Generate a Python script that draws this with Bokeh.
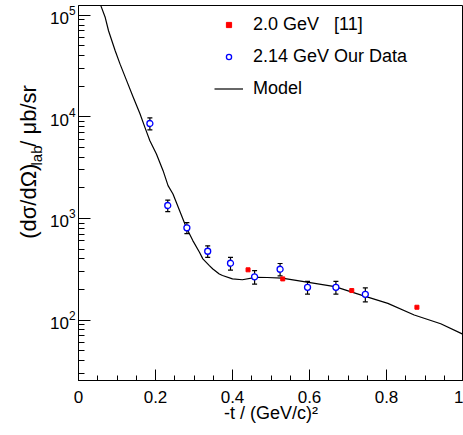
from math import pi
from bokeh.plotting import figure
from bokeh.layouts import row
from bokeh.models import Range1d, FixedTicker, Legend, LegendItem
from bokeh.core.properties import value
from bokeh.embed import file_html
from bokeh.resources import INLINE

# ---- data -------------------------------------------------------------
# Model curve: -t (GeV/c)^2, cross section (ub/sr)
model_t = [0.055, 0.0582, 0.0695, 0.078, 0.0953, 0.108, 0.125, 0.1424, 0.1597,
           0.1725, 0.1854, 0.2024, 0.2197, 0.2326, 0.2454, 0.2627, 0.2797, 0.2969,
           0.3142, 0.323, 0.340, 0.349, 0.3657, 0.374, 0.400, 0.4257, 0.46, 0.49,
           0.5287, 0.5975, 0.666, 0.7347, 0.8035, 0.872, 0.9408, 0.9966, 1.0]
model_xs = [134000, 123600, 94800, 70300, 44700, 33000, 22700, 15500, 10700,
            7870, 5820, 4310, 2950, 2100, 1740, 1190, 817, 605,
            464, 400, 343, 318, 284, 274, 254, 249, 263, 262,
            258, 235, 213, 176, 146, 112, 92, 73, 72]

# 2.14 GeV, our data
our_t = [0.1854, 0.2318, 0.2815, 0.3356, 0.3948, 0.4574, 0.5236, 0.5949, 0.6686, 0.745]
our_xs = [8590, 1340, 808, 475, 362, 266, 316, 210, 210, 179]
our_err = [1150, 175, 100, 62, 52, 40, 44, 30, 30, 28]

# 2.0 GeV [11]
ref_t = [0.4404, 0.5305, 0.7098, 0.879]
ref_xs = [312, 254, 195, 133.6]

x_ticks = [0.0, 0.2, 0.4, 0.6, 0.8, 1.0]
x_tick_labels = ["0", "0.2", "0.4", "0.6", "0.8", "1"]
x_minor = [i * 0.05 for i in range(21)]
y_ticks = [1e2, 1e3, 1e4, 1e5]
y_minor = [m * 10 ** e for e in range(1, 5) for m in range(2, 10)]

legend_labels = ["2.0 GeV\u00a0\u00a0\u00a0[11]", "2.14 GeV Our Data", "Model"]
x_title = "-t / (GeV/c)\u00b2"
y_title_main = "(d\u03c3/d\u03a9)"
y_title_sub = "lab"
y_title_rest = "/ \u03bcb/sr"

FONT = "Liberation Sans"
TW = 46  # width of the strip that carries the y title

# ---- y title strip (text pieces centred on their anchors) -------------
t = figure(width=TW, height=435, x_range=Range1d(0, TW), y_range=Range1d(435, 0),
           output_backend="svg", toolbar_location=None,
           x_axis_location=None, y_axis_location=None,
           min_border_left=0, min_border_right=0, min_border_top=0, min_border_bottom=0)
t.xgrid.visible = False
t.ygrid.visible = False
t.outline_line_color = None
t.background_fill_color = "white"
t.border_fill_color = "white"
t.text(x=[27.5], y=[227], text=[y_title_main], angle=pi / 2, text_font=value(FONT),
       text_font_size=value("22px"), text_align="center", text_baseline="middle",
       text_color="black")
t.text(x=[36], y=[174], text=[y_title_sub], angle=pi / 2, text_font=value(FONT),
       text_font_size=value("15px"), text_align="center", text_baseline="middle",
       text_color="black")
t.text(x=[27.5], y=[128], text=[y_title_rest], angle=pi / 2, text_font=value(FONT),
       text_font_size=value("22px"), text_align="center", text_baseline="middle",
       text_color="black")

# ---- main figure ------------------------------------------------------
p = figure(width=463 - TW, height=435, x_range=Range1d(0, 1), y_range=Range1d(25.4, 124600),
           y_axis_type="log", output_backend="svg", toolbar_location=None,
           min_border_left=75 - TW, min_border_right=0, min_border_top=5, min_border_bottom=55)
p.xgrid.visible = False
p.ygrid.visible = False
p.outline_line_color = "black"
p.outline_line_width = 1
p.background_fill_color = "white"
p.border_fill_color = "white"

xa = p.xaxis[0]
ya = p.yaxis[0]
xa.ticker = FixedTicker(ticks=x_ticks, minor_ticks=x_minor)
xa.major_label_overrides = {tk: lb for tk, lb in zip(x_ticks, x_tick_labels)}
ya.ticker = FixedTicker(ticks=y_ticks, minor_ticks=y_minor)

for ax in (xa, ya):
    ax.major_tick_out = 0
    ax.minor_tick_out = 0
    ax.axis_line_color = "black"
    ax.major_tick_line_color = "black"
    ax.minor_tick_line_color = "black"
    ax.major_label_text_font = FONT
    ax.major_label_text_font_size = "17px"
    ax.major_label_text_color = "black"
xa.major_tick_in = 11
xa.minor_tick_in = 5
ya.major_tick_in = 12
ya.minor_tick_in = 6
xa.major_label_standoff = 10
ya.major_label_standoff = 3

xa.axis_label = x_title
xa.axis_label_text_font = FONT
xa.axis_label_text_font_size = "18px"
xa.axis_label_text_font_style = "normal"
xa.axis_label_text_color = "black"
xa.axis_label_standoff = -3

# ---- glyphs -----------------------------------------------------------
r_model = p.line(model_t, model_xs, line_color="black", line_width=1.2)

lo = [v - e for v, e in zip(our_xs, our_err)]
hi = [v + e for v, e in zip(our_xs, our_err)]
p.segment(our_t, lo, our_t, hi, line_color="black", line_width=1.2)
p.scatter(our_t, lo, marker="dash", size=5, line_color="black", line_width=1.2)
p.scatter(our_t, hi, marker="dash", size=5, line_color="black", line_width=1.2)

r_ref = p.scatter(ref_t, ref_xs, marker="square", size=4, fill_color="#ff0000",
                  line_color="#ff0000")
r_our = p.scatter(our_t, our_xs, marker="circle", size=6, fill_color="white",
                  line_color="#0000ff", line_width=1.3)

legend = Legend(items=[LegendItem(label=legend_labels[0], renderers=[r_ref]),
                       LegendItem(label=legend_labels[1], renderers=[r_our]),
                       LegendItem(label=legend_labels[2], renderers=[r_model])],
                location=(136, 281), glyph_width=29, glyph_height=13, label_height=22,
                spacing=10, padding=0, margin=0, label_standoff=10,
                border_line_color=None, background_fill_alpha=0,
                label_text_font=FONT, label_text_font_size="18px",
                label_text_color="black")
p.add_layout(legend)

layout = row(t, p, spacing=0)
open("out.html", "w").write(file_html(layout, INLINE))
